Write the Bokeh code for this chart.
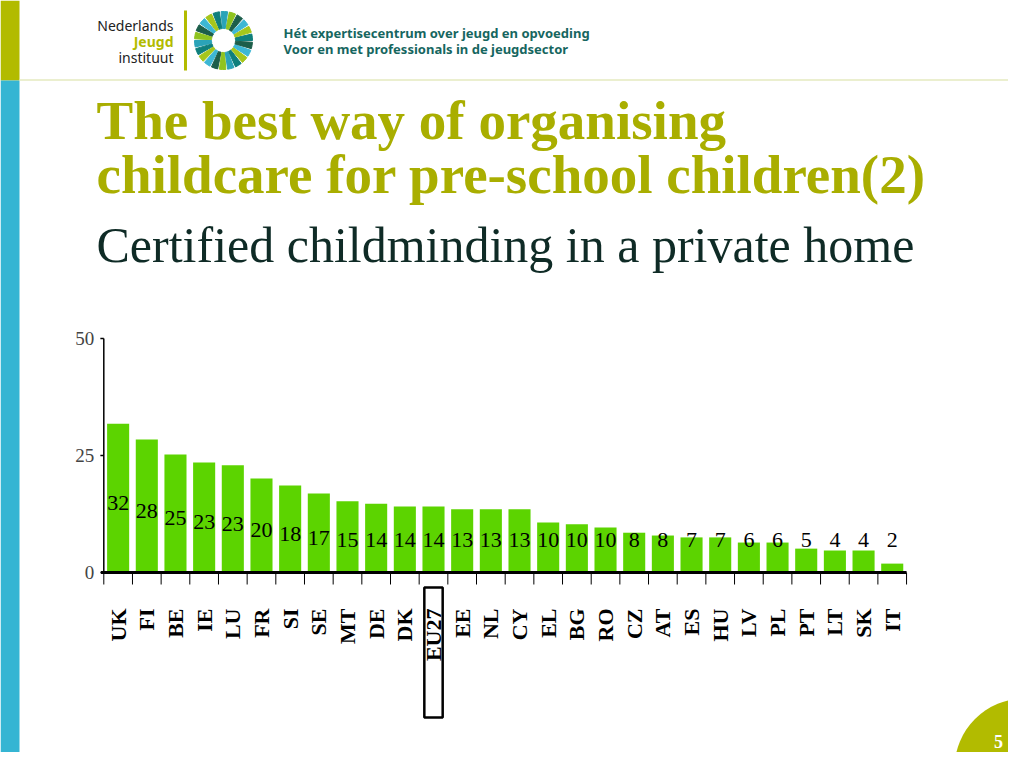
import numpy as np
from bokeh.plotting import figure
from bokeh.models import Range1d
from bokeh.embed import file_html
from bokeh.resources import INLINE
from bokeh.core.properties import value

# ---------------- data ----------------
categories = ["UK", "FI", "BE", "IE", "LU", "FR", "SI", "SE", "MT", "DE", "DK", "EU27",
              "EE", "NL", "CY", "EL", "BG", "RO", "CZ", "AT", "ES", "HU", "LV", "PL",
              "PT", "LT", "SK", "IT"]
shares = [31.8, 28.4, 25.2, 23.5, 22.9, 20.1, 18.6, 16.9, 15.2, 14.7, 14.1, 14.1,
          13.5, 13.5, 13.5, 10.7, 10.3, 9.6, 8.5, 7.9, 7.5, 7.5, 6.4, 6.4,
          5.1, 4.7, 4.7, 1.9]
share_labels = ["32", "28", "25", "23", "23", "20", "18", "17", "15", "14", "14", "14",
                "13", "13", "13", "10", "10", "10", "8", "8", "7", "7", "6", "6",
                "5", "4", "4", "2"]
y_ticks = [0, 25, 50]
y_tick_labels = ["0", "25", "50"]
highlight = "EU27"

title_lines = ["The best way of organising", "childcare for pre-school children(2)"]
subtitle = "Certified childminding in a private home"
header_lines = ["Hét expertisecentrum over jeugd en opvoeding",
                "Voor en met professionals in de jeugdsector"]
logo_lines = ["Nederlands", "Jeugd", "instituut"]
page_number = "5"

# ---------------- layout (page pixels) ----------------
W, H = 1008, 752
cat_left, cat_step = 103.3, 28.67     # x of first category boundary, width per category
base_y, top_y, y_max = 572.0, 338.0, 50.0

OLIVE = "#b2bb00"
TITLE = "#a9ae00"
CYAN = "#35b5d3"
BAR = "#5cd400"
TEAL = "#166660"

p = figure(width=W, height=H, output_backend="svg", toolbar_location=None,
           x_range=Range1d(0, W), y_range=Range1d(H, 0),
           x_axis_type=None, y_axis_type=None, min_border=0,
           background_fill_color="white", border_fill_color="white")
p.outline_line_color = None
p.xgrid.visible = False
p.ygrid.visible = False

# chart scales (library ranges mapped onto the chart area)
def v_of(Y):
    return (base_y - Y) * y_max / (base_y - top_y)

p.extra_x_ranges = {"cat": Range1d((0 - cat_left) / cat_step, (W - cat_left) / cat_step)}
p.extra_y_ranges = {"val": Range1d(v_of(H), v_of(0))}

def mid(baseline, size):
    # text drawn with "middle" baseline: shift up from the alphabetic baseline
    return baseline - 0.36 * size

# ---------------- slide decoration ----------------
p.quad(left=0, right=19, top=0, bottom=80, fill_color=OLIVE, line_color=None)
p.quad(left=0, right=19, top=80, bottom=780, fill_color=CYAN, line_color=None)
p.segment(x0=19, y0=79.5, x1=1030, y1=79.5, line_color="#e4eabf", line_width=1.5)

# logo
p.text(x=[173, 173, 173], y=[mid(30, 14), mid(46, 14), mid(62, 14)], text=logo_lines,
       text_color=["#222222", OLIVE, "#222222"],
       text_font_style=["normal", "bold", "normal"],
       text_font=value("Noto Sans"), text_font_size="14px",
       text_align="right", text_baseline="middle")
p.segment(x0=185, y0=10, x1=185, y1=70, line_color=OLIVE, line_width=3)
n_w = 22
ang = np.linspace(0, 2 * np.pi, n_w + 1)
ring_cols = ["#0f7f7c", "#a6c61c", "#3db7d4", "#1c5e4a", "#8fc31f", "#2aa3b8"]
p.annular_wedge(x=223, y=40, inner_radius=12, outer_radius=29,
                start_angle=ang[:-1], end_angle=ang[1:] - 0.06,
                color=[ring_cols[i % len(ring_cols)] for i in range(n_w)])
p.text(x=[283, 283], y=[mid(37, 13), mid(53, 13)], text=header_lines, text_color=TEAL,
       text_font=value("Noto Sans"), text_font_size="13px", text_font_style="bold",
       text_align="left", text_baseline="middle")

# titles
p.text(x=[96, 96], y=[mid(140, 55), mid(194, 55)], text=title_lines, text_color=TITLE,
       text_font=value("Liberation Serif"), text_font_size="55px", text_font_style="bold",
       text_align="left", text_baseline="middle")
p.text(x=[96], y=[mid(262, 50)], text=[subtitle], text_color="#0f2b26",
       text_font=value("Liberation Serif"), text_font_size="50px",
       text_align="left", text_baseline="middle")

# page number corner
p.circle(x=[1024], y=[768], radius=70, fill_color=OLIVE, line_color=None)
p.text(x=[998], y=[741], text=[page_number], text_color="white",
       text_font=value("Liberation Serif"), text_font_size="18px", text_font_style="bold",
       text_align="center", text_baseline="middle")

# ---------------- chart ----------------
n = len(categories)
centers = [i + 0.5 for i in range(n)]
ck = dict(x_range_name="cat", y_range_name="val")

p.vbar(x=centers, top=shares, bottom=0, width=0.77, fill_color=BAR, line_color=None, **ck)

label_y = [max(v / 2 - 1, 7) for v in shares]
p.text(x=centers, y=label_y, text=share_labels, text_color="black",
       text_font=value("Liberation Serif"), text_font_size="22px",
       text_align="center", text_baseline="middle", **ck)

# axes
p.segment(x0=[0], y0=[0], x1=[0], y1=[y_max], line_color="black", line_width=1.5, **ck)
p.segment(x0=[-0.1], y0=[0], x1=[n], y1=[0], line_color="black", line_width=3, **ck)
p.segment(x0=[-0.12] * len(y_ticks), y0=y_ticks, x1=[0] * len(y_ticks), y1=y_ticks,
          line_color="black", line_width=1.5, **ck)
bounds = list(range(n + 1))
p.segment(x0=bounds, y0=[0] * len(bounds), x1=bounds, y1=[v_of(584)] * len(bounds),
          line_color="black", line_width=1, **ck)
p.text(x=[-0.33] * len(y_ticks), y=y_ticks, text=y_tick_labels, text_color="#444444",
       text_font=value("Liberation Serif"), text_font_size="19px",
       text_align="right", text_baseline="middle", **ck)

p.text(x=centers, y=[v_of(608)] * n, text=categories, angle=np.pi / 2,
       text_color="black", text_font=value("Liberation Serif"), text_font_style="bold",
       text_font_size="22px", text_align="right", text_baseline="middle", **ck)

hi = categories.index(highlight) + 0.5
p.quad(left=[hi - 0.32], right=[hi + 0.32], top=[v_of(587)], bottom=[v_of(717)],
       fill_color=None, line_color="black", line_width=2.5, **ck)

open("out.html", "w").write(file_html(p, INLINE))
